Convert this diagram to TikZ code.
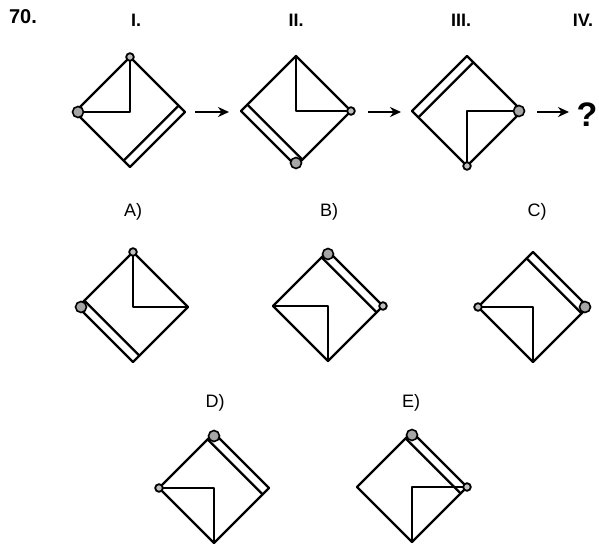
\documentclass[tikz,border=0pt]{standalone}
\usepackage{fontspec}
\setmainfont{Liberation Sans}
\usetikzlibrary{calc,arrows.meta}
\tikzset{
  shapeline/.style={line width=2.3pt, line join=round, line cap=round},
  dotsmall/.style={fill=gray!50, draw=black, line width=1.8pt},
  dotgray/.style={fill=gray!70, draw=black, line width=1.6pt},
  steparrow/.style={-{Stealth[length=11pt,width=10pt]}, line width=2.3pt},
  lab/.style={font=\fontsize{18}{20}\selectfont, inner sep=0pt},
  roman/.style={font=\bfseries\fontsize{18}{20}\selectfont, inner sep=0pt},
}
% #1 center, #2 #3 line ends, #4 small circle vertex, #5 grey vertex, #6-#9 strip
\newcommand\drawfig[9]{%
  \begin{scope}[shift={#1}]
    \coordinate (O) at (0,0);
    \coordinate (T) at (0,-55);
    \coordinate (R) at (55,0);
    \coordinate (B) at (0,55);
    \coordinate (L) at (-55,0);
    \draw[shapeline] (T) -- (R) -- (B) -- (L) -- cycle;
    \draw[shapeline] (#2) -- (O) -- (#3);
    \draw[shapeline] ($(#6)!9pt!(#7)$) -- ($(#8)!9pt!(#9)$);
    \filldraw[dotgray] ($(#5)!3pt!(O)$) circle[radius=5.5pt];
    \filldraw[dotsmall] (#4) circle[radius=3.8pt];
  \end{scope}%
}
\begin{document}
\begin{tikzpicture}[x=1pt,y=-1pt]
  \useasboundingbox (0,0) rectangle (599,543);
  % top row
  \drawfig{(130,112)}{T}{L}{T}{L}{R}{T}{B}{L}
  \drawfig{(296,111)}{T}{R}{R}{B}{L}{T}{B}{R}
  \drawfig{(467,111)}{R}{B}{B}{R}{T}{R}{L}{B}
  % answers
  \drawfig{(133,307)}{T}{R}{T}{L}{L}{T}{B}{R}
  \drawfig{(328,306)}{L}{B}{R}{T}{T}{L}{R}{B}
  \drawfig{(533,307)}{L}{B}{L}{R}{T}{L}{R}{B}
  \drawfig{(214,488)}{L}{B}{L}{T}{T}{L}{R}{B}
  \drawfig{(412,487)}{R}{B}{R}{T}{T}{L}{R}{B}
  % arrows
  \coordinate (a1s) at (195,112); \coordinate (a1e) at (229,112);
  \coordinate (a2s) at (368,112); \coordinate (a2e) at (401,112);
  \coordinate (a3s) at (537,112); \coordinate (a3e) at (569,112);
  \draw[steparrow] (a1s) -- (a1e);
  \draw[steparrow] (a2s) -- (a2e);
  \draw[steparrow] (a3s) -- (a3e);
  % texts
  \node[font=\bfseries\fontsize{20}{22}\selectfont, inner sep=0pt] (num) at (23,17) {70.};
  \node[roman] (r1) at (136,20) {I.};
  \node[roman] (r2) at (296,20) {II.};
  \node[roman] (r3) at (461,20) {III.};
  \node[roman] (r4) at (583,20) {IV.};
  \node[font=\bfseries\fontsize{34}{36}\selectfont, inner sep=0pt] (q) at (587,115) {?};
  \node[lab] (la) at (133,212) {A)};
  \node[lab] (lb) at (329,212) {B)};
  \node[lab] (lc) at (537,212) {C)};
  \node[lab] (ld) at (215,403) {D)};
  \node[lab] (le) at (411,403) {E)};
\end{tikzpicture}
\end{document}
